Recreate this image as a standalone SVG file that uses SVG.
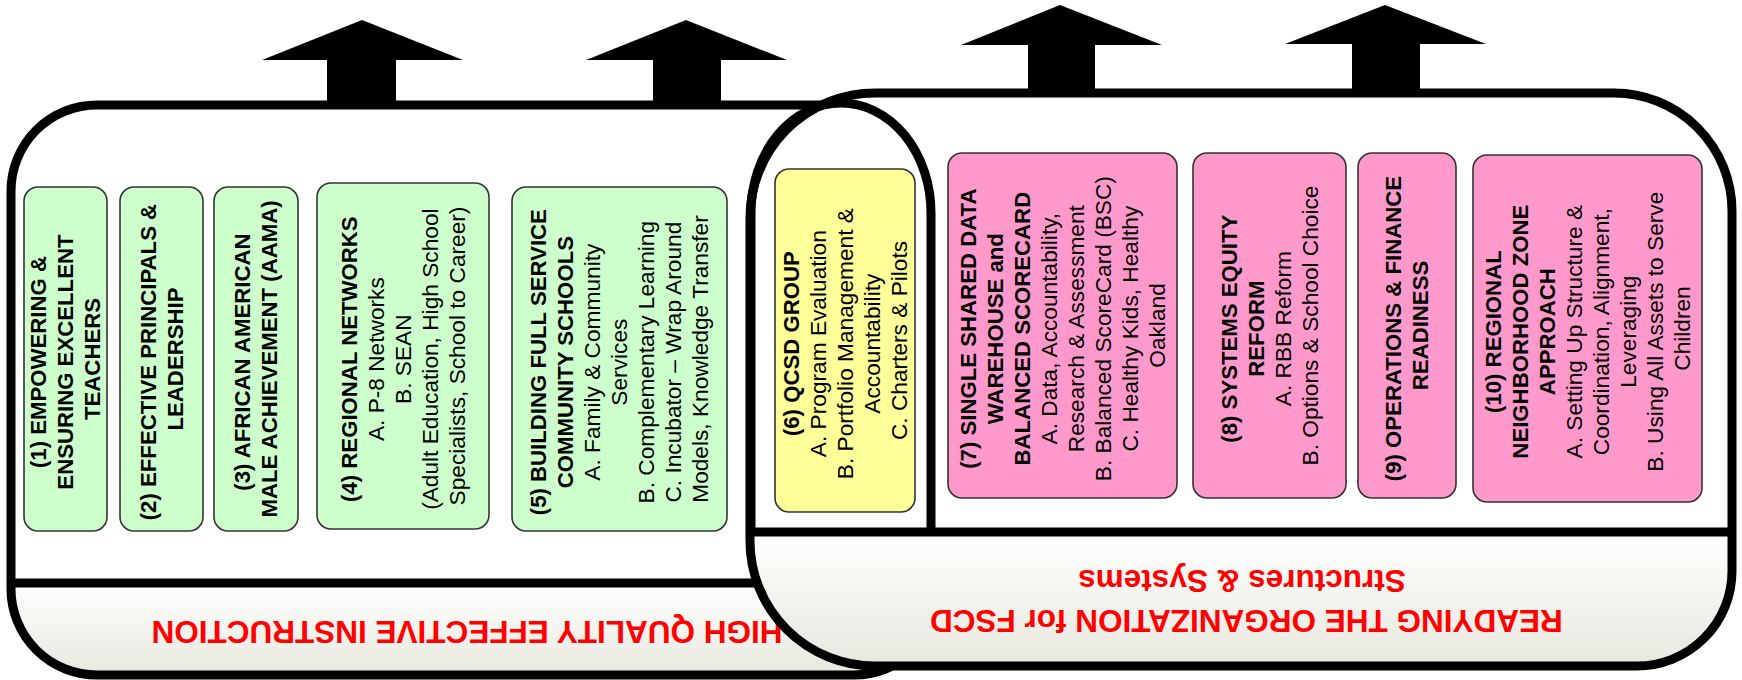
<svg xmlns="http://www.w3.org/2000/svg" width="1742" height="680" viewBox="0 0 1742 680">
<defs>
<linearGradient id="lowGrad" x1="0" y1="0" x2="0" y2="1">
<stop offset="0" stop-color="#ffffff"/>
<stop offset="1" stop-color="#e8e8df"/>
</linearGradient>
<style>
.outline{fill:none;stroke:#000;stroke-width:9;stroke-linejoin:round}
.white{fill:#fff;stroke:none}
.low{fill:url(#lowGrad);stroke:none}
.box{stroke:#333;stroke-width:1.6}
.green{fill:#ccffcc}
.yellow{fill:#ffff99}
.pink{fill:#ff99cc}
.t{font-family:'Liberation Sans',Arial,sans-serif;font-size:22.7px;text-anchor:middle;fill:#000}
.b{font-weight:bold;font-size:22.2px}
.lbl{font-family:'Liberation Sans',Arial,sans-serif;font-size:31.5px;font-weight:bold;text-anchor:middle;fill:#ff0000}
.arrow{fill:#000;stroke:none}
</style>
</defs>

<g id="container-instruction">
<rect class="white" x="11" y="105" width="929" height="570" rx="86" ry="86"/>
<path class="low" d="M11,583 H940 V589 A86,86 0 0 1 854,675 H97 A86,86 0 0 1 11,589 Z"/>
<line x1="11" y1="583" x2="940" y2="583" stroke="#000" stroke-width="9"/>
<rect class="outline" x="11" y="105" width="929" height="570" rx="86" ry="86"/>
<text class="lbl" transform="translate(467,632) rotate(180)" x="0" y="11.3">HIGH QUALITY EFFECTIVE INSTRUCTION</text>
</g>

<g id="container-readying">
<path class="white" d="M875,93 H1614 A118,118 0 0 1 1732,211 V571 A95,95 0 0 1 1637,666 H875 A125,125 0 0 1 750,541 V218 A125,125 0 0 1 875,93 Z"/>
<path class="low" d="M750,532 H1732 V571 A95,95 0 0 1 1637,666 H875 A125,125 0 0 1 750,541 Z"/>
<line x1="750" y1="532" x2="1732" y2="532" stroke="#000" stroke-width="9"/>
<path class="outline" d="M875,93 H1614 A118,118 0 0 1 1732,211 V571 A95,95 0 0 1 1637,666 H875 A125,125 0 0 1 750,541 V218 A125,125 0 0 1 875,93 Z"/>
<text class="lbl" transform="translate(1242,601) rotate(180)">
<tspan x="0" y="-8.7">READYING THE ORGANIZATION for FSCD</tspan>
<tspan x="0" y="31.3">Structures &amp; Systems</tspan>
</text>
</g>

<g id="container-qcsd">
<path class="outline" d="M751,532 V213 A90,110 0 0 1 931,213 V532"/>
</g>

<g id="connectors">
<polygon class="arrow" points="362,20 463,60 396,60 396,109 327,109 327,60 262,60"/>
<polygon class="arrow" points="686,20 787,60 721,60 721,109 653,109 653,60 586,60"/>
<polygon class="arrow" points="1060,5 1162,45 1095,45 1095,97 1028,97 1028,45 961,45"/>
<polygon class="arrow" points="1385,5 1486,44 1420,44 1420,97 1352,97 1352,44 1285,44"/>
</g>

<g id="node1">
<rect class="box green" x="24" y="187" width="83" height="344" rx="14"/>
<text class="t b" transform="translate(65.5,359) rotate(-90)">
<tspan x="0" y="-19.3">(1) EMPOWERING &amp;</tspan>
<tspan x="0" y="7.7">ENSURING EXCELLENT</tspan>
<tspan x="0" y="34.7">TEACHERS</tspan>
</text>
</g>

<g id="node2">
<rect class="box green" x="120" y="187" width="83" height="344" rx="14"/>
<text class="t b" transform="translate(161.5,359) rotate(-90)">
<tspan x="0" y="-5.8">(2) EFFECTIVE PRINCIPALS &amp;</tspan>
<tspan x="0" y="21.2">LEADERSHIP</tspan>
</text>
</g>

<g id="node3">
<rect class="box green" x="214" y="187" width="84" height="344" rx="14"/>
<text class="t b" transform="translate(256,359) rotate(-90)">
<tspan x="0" y="-5.8">(3) AFRICAN AMERICAN</tspan>
<tspan x="0" y="21.2">MALE ACHIEVEMENT (AAMA)</tspan>
</text>
</g>

<g id="node4">
<rect class="box green" x="317" y="183" width="172" height="346" rx="14"/>
<text class="t" transform="translate(403,356) rotate(-90)">
<tspan class="b" x="0" y="-46.3">(4) REGIONAL NETWORKS</tspan>
<tspan x="0" y="-19.3">A. P-8 Networks</tspan>
<tspan x="0" y="7.7">B. SEAN</tspan>
<tspan x="0" y="34.7">(Adult Education, High School</tspan>
<tspan x="0" y="61.7">Specialists, School to Career)</tspan>
</text>
</g>

<g id="node5">
<rect class="box green" x="512" y="187" width="215" height="344" rx="14"/>
<text class="t" transform="translate(619.5,359) rotate(-90)">
<tspan class="b" x="0" y="-73.3">(5) BUILDING FULL SERVICE</tspan>
<tspan class="b" x="0" y="-46.3">COMMUNITY SCHOOLS</tspan>
<tspan x="0" y="-19.3">A. Family &amp; Community</tspan>
<tspan x="0" y="7.7">Services</tspan>
<tspan x="0" y="34.7">B. Complementary Learning</tspan>
<tspan x="0" y="61.7">C. Incubator – Wrap Around</tspan>
<tspan x="0" y="88.7">Models, Knowledge Transfer</tspan>
</text>
</g>

<g id="node6">
<rect class="box yellow" x="775" y="169" width="140" height="343" rx="14"/>
<text class="t" transform="translate(845,340.5) rotate(-90)">
<tspan class="b" x="0" y="-46.3">(6) QCSD GROUP</tspan>
<tspan x="0" y="-19.3">A. Program Evaluation</tspan>
<tspan x="0" y="7.7">B. Portfolio Management &amp;</tspan>
<tspan x="0" y="34.7">Accountability</tspan>
<tspan x="0" y="61.7">C. Charters &amp; Pilots</tspan>
</text>
</g>

<g id="node7">
<rect class="box pink" x="948" y="153" width="229" height="345" rx="14"/>
<text class="t" transform="translate(1062.5,325.5) rotate(-90)">
<tspan class="b" x="0" y="-86.8">(7) SINGLE SHARED DATA</tspan>
<tspan class="b" x="0" y="-59.8">WAREHOUSE and</tspan>
<tspan class="b" x="0" y="-32.8">BALANCED SCORECARD</tspan>
<tspan x="0" y="-5.8">A. Data, Accountability,</tspan>
<tspan x="0" y="21.2">Research &amp; Assessment</tspan>
<tspan x="0" y="48.2">B. Balanced ScoreCard (BSC)</tspan>
<tspan x="0" y="75.2">C. Healthy Kids, Healthy</tspan>
<tspan x="0" y="102.2">Oakland</tspan>
</text>
</g>

<g id="node8">
<rect class="box pink" x="1193" y="153" width="153" height="345" rx="14"/>
<text class="t" transform="translate(1269.5,325.5) rotate(-90)">
<tspan class="b" x="0" y="-32.8">(8) SYSTEMS EQUITY</tspan>
<tspan class="b" x="0" y="-5.8">REFORM</tspan>
<tspan x="0" y="21.2">A. RBB Reform</tspan>
<tspan x="0" y="48.2">B. Options &amp; School Choice</tspan>
</text>
</g>

<g id="node9">
<rect class="box pink" x="1358" y="153" width="98" height="345" rx="14"/>
<text class="t b" transform="translate(1407,325.5) rotate(-90)">
<tspan x="0" y="-5.8">(9) OPERATIONS &amp; FINANCE</tspan>
<tspan x="0" y="21.2">READINESS</tspan>
</text>
</g>

<g id="node10">
<rect class="box pink" x="1473" y="155" width="229" height="347" rx="14"/>
<text class="t" transform="translate(1587.5,328.5) rotate(-90)">
<tspan class="b" x="0" y="-86.8">(10) REGIONAL</tspan>
<tspan class="b" x="0" y="-59.8">NEIGHBORHOOD ZONE</tspan>
<tspan class="b" x="0" y="-32.8">APPROACH</tspan>
<tspan x="0" y="-5.8">A. Setting Up Structure &amp;</tspan>
<tspan x="0" y="21.2">Coordination, Alignment,</tspan>
<tspan x="0" y="48.2">Leveraging</tspan>
<tspan x="0" y="75.2">B. Using All Assets to Serve</tspan>
<tspan x="0" y="102.2">Children</tspan>
</text>
</g>
</svg>
